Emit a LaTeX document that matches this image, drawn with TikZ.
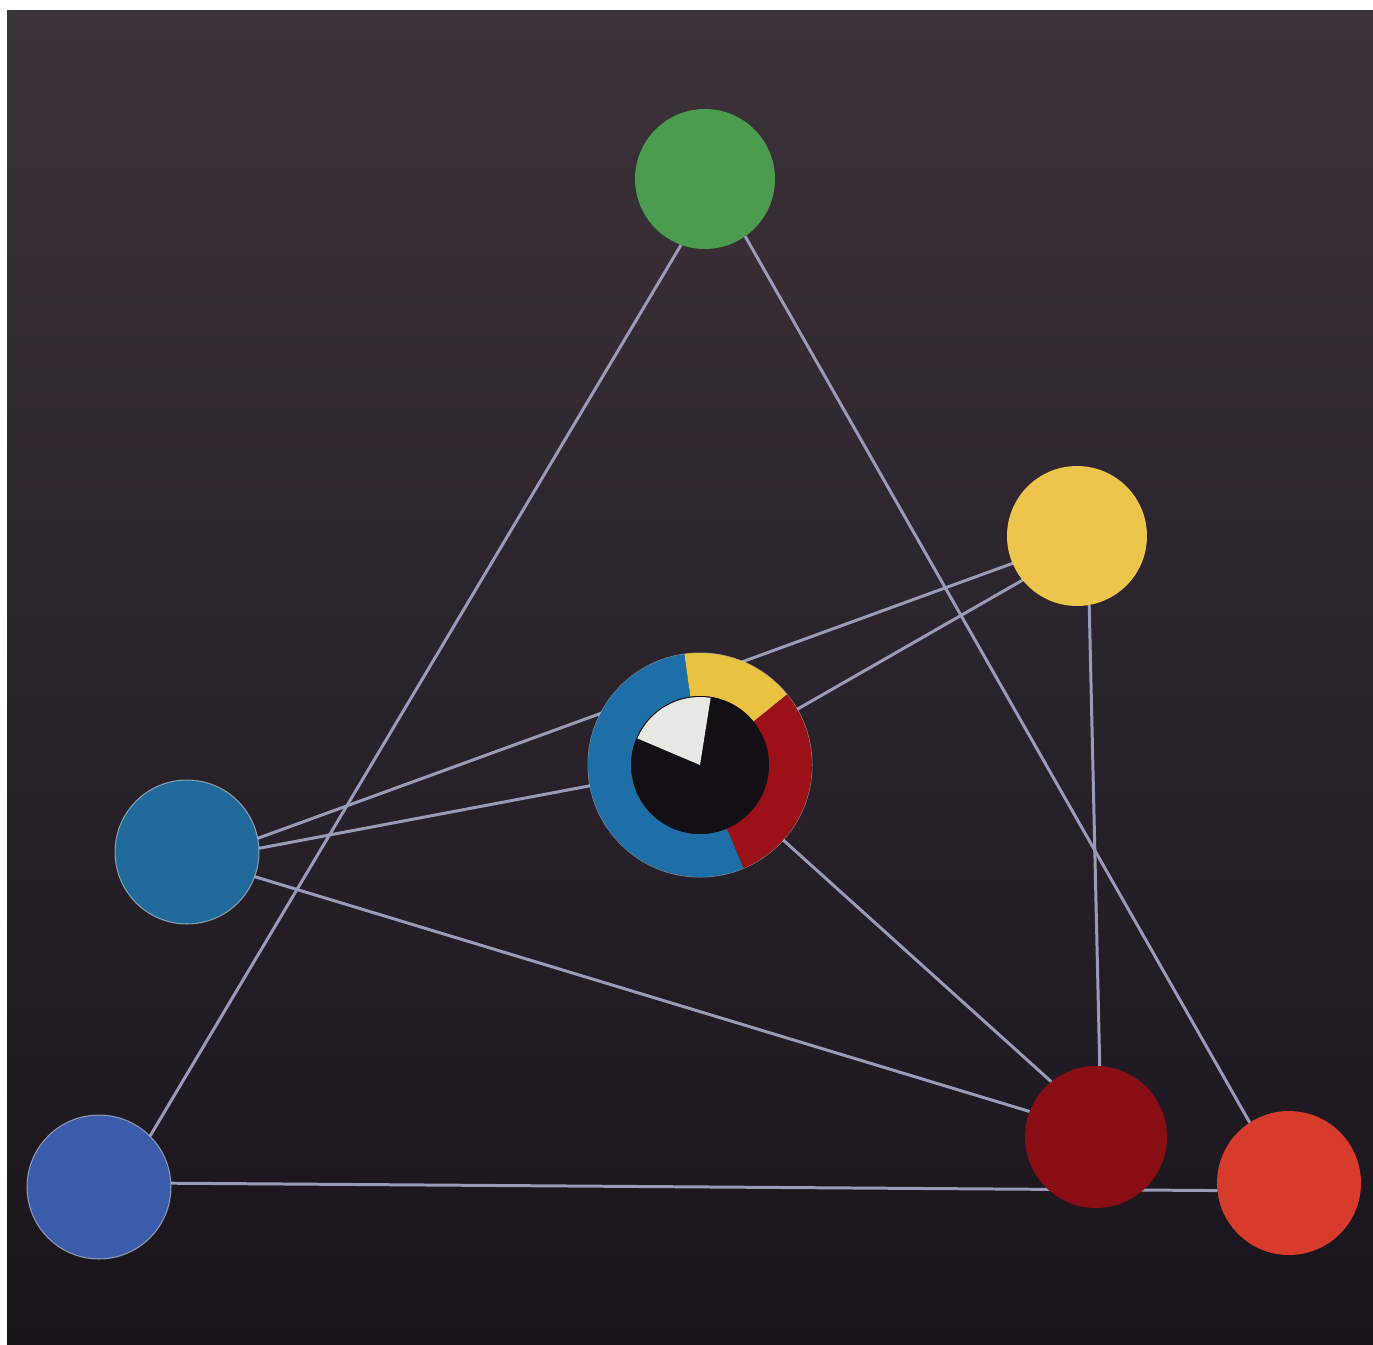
\documentclass[tikz,border=0pt]{standalone}
\definecolor{bgtop}{HTML}{3C323A}
\definecolor{bgbottom}{HTML}{19141C}
\definecolor{chalkline}{HTML}{9A9BBA}
\definecolor{leafgreen}{HTML}{4C9C50}
\definecolor{sunyellow}{HTML}{EDC44C}
\definecolor{steelblue}{HTML}{1F6A9B}
\definecolor{royalblue}{HTML}{3B5BAB}
\definecolor{wine}{HTML}{8A0F15}
\definecolor{vermilion}{HTML}{D63B2B}
\definecolor{ringblue}{HTML}{1E6FA8}
\definecolor{ringyellow}{HTML}{E9C242}
\definecolor{ringred}{HTML}{9B1117}
\definecolor{inkblack}{HTML}{121014}
\definecolor{chalk}{HTML}{E8E8E4}
\pgfdeclarelayer{paper}
\pgfdeclarelayer{wires}
\pgfsetlayers{paper,wires,main}
\begin{document}
\begin{tikzpicture}[
    x=0.02cm, y=-0.02cm,
    disc/.style={circle, minimum size=2.88cm, inner sep=0pt},
    rim/.style={draw=white!75!gray, draw opacity=0.55, line width=0.6pt},
    chord/.style={draw=chalkline, line width=1.7pt, line cap=round}
]
    \begin{pgfonlayer}{paper}
        \fill[white] (0,0) rectangle (1373,1345);
        \shade[top color=bgtop, bottom color=bgbottom] (7,11) rectangle (1373,1345);
    \end{pgfonlayer}
    \node[disc, fill=leafgreen, minimum size=2.8cm] (green) at (705,179) {};
    \node[disc, fill=sunyellow, minimum size=2.8cm] (yellow) at (1077,536) {};
    \node[disc, fill=steelblue, rim] (steel) at (187,852) {};
    \node[disc, fill=royalblue, rim] (royal) at (99,1187) {};
    \node[disc, fill=wine, minimum size=2.84cm] (wine) at (1096,1137) {};
    \node[disc, fill=vermilion] (vermilion) at (1289,1183) {};
    \node[circle, minimum size=4.48cm, inner sep=0pt, rim] (ring) at (700,765) {};
    \begin{scope}[shift={(ring.center)}, x=1cm, y=1cm]
        \fill[ringblue] (98:2.24) arc[start angle=98, end angle=293, radius=2.24]
            -- (293:1.38) arc[start angle=293, end angle=98, radius=1.38] -- cycle;
        \fill[ringyellow] (39:2.24) arc[start angle=39, end angle=98, radius=2.24]
            -- (98:1.38) arc[start angle=98, end angle=39, radius=1.38] -- cycle;
        \fill[ringred] (-67:2.24) arc[start angle=-67, end angle=39, radius=2.24]
            -- (39:1.38) arc[start angle=39, end angle=-67, radius=1.38] -- cycle;
        \fill[inkblack] (0,0) circle (1.38);
        \fill[chalk] (0,0) -- (81:1.36) arc[start angle=81, end angle=157, radius=1.36] -- cycle;
    \end{scope}
    \begin{pgfonlayer}{wires}
        \draw[chord] (green.250) -- (royal.45);
        \draw[chord] (green.305) -- (vermilion.123);
        \draw[chord] (royal.3) -- (vermilion.186);
        \draw[chord] (steel.11) -- (yellow.203);
        \draw[chord] (steel.3) -- (ring.center);
        \draw[chord] (yellow.219) -- (ring.center);
        \draw[chord] (steel.340) -- (wine.159);
        \draw[chord] (ring.center) -- (wine.129);
        \draw[chord] (yellow.280) -- (wine.87);
    \end{pgfonlayer}
\end{tikzpicture}
\end{document}
